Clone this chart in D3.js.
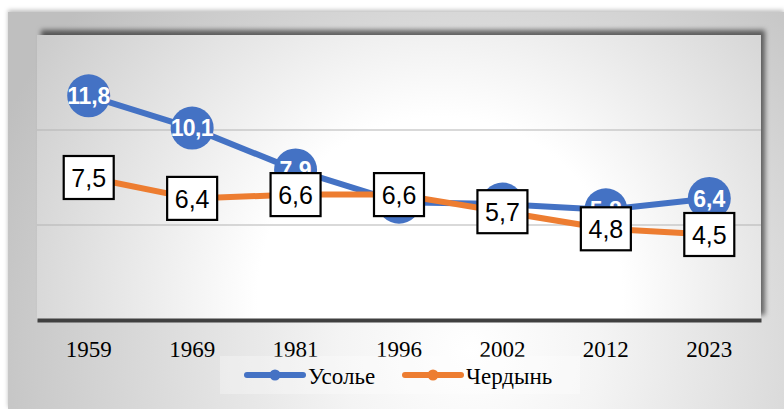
<!DOCTYPE html>
<html>
<head>
<meta charset="utf-8">
<script src="https://cdn.jsdelivr.net/npm/d3@7/dist/d3.min.js"></script>
<style>
  html, body { margin: 0; padding: 0; background: #ffffff; }
  svg { display: block; }
</style>
</head>
<body>
<svg id="chart" width="784" height="409"></svg>
<script>
// Census years and population (thousand people) of the two towns
const years = ["1959", "1969", "1981", "1996", "2002", "2012", "2023"];
const usolye = [11.8, 10.1, 7.9, 6.2, 6.1, 5.8, 6.4];
const cherdyn = [7.5, 6.4, 6.6, 6.6, 5.7, 4.8, 4.5];
const seriesNames = ["Усолье", "Чердынь"];
const gridValues = [5, 10];

const W = 784, H = 409;
const plot = { left: 37, right: 761, top: 35, bottom: 320 };
const blue = "#4472C4", orange = "#ED7D31";

const svg = d3.select("#chart");
const defs = svg.append("defs");

// outer panel gradient
const gOuter = defs.append("radialGradient").attr("id", "outerGrad")
  .attr("gradientUnits", "userSpaceOnUse")
  .attr("cx", 470).attr("cy", 350).attr("r", 520);
gOuter.append("stop").attr("offset", 0).attr("stop-color", "#ffffff");
gOuter.append("stop").attr("offset", 0.25).attr("stop-color", "#f4f4f4");
gOuter.append("stop").attr("offset", 1).attr("stop-color", "#bfbfbf");

// plot area gradient
const gPlot = defs.append("radialGradient").attr("id", "plotGrad")
  .attr("gradientUnits", "userSpaceOnUse")
  .attr("cx", 440).attr("cy", 300).attr("r", 480);
gPlot.append("stop").attr("offset", 0).attr("stop-color", "#ffffff");
gPlot.append("stop").attr("offset", 0.38).attr("stop-color", "#ffffff");
gPlot.append("stop").attr("offset", 1).attr("stop-color", "#cbcbcb");

const shPlot = defs.append("filter").attr("id", "plotShadow")
  .attr("x", "-5%").attr("y", "-10%").attr("width", "110%").attr("height", "120%");
shPlot.append("feDropShadow").attr("dx", 4).attr("dy", -5)
  .attr("stdDeviation", 2.5).attr("flood-color", "#000").attr("flood-opacity", 0.55);

const shOuter = defs.append("filter").attr("id", "outerShadow")
  .attr("x", "-5%").attr("y", "-10%").attr("width", "110%").attr("height", "120%");
shOuter.append("feDropShadow").attr("dx", 0).attr("dy", -2)
  .attr("stdDeviation", 2).attr("flood-color", "#000").attr("flood-opacity", 0.25);

// outer panel
svg.append("rect").attr("x", 8).attr("y", 12).attr("width", W - 8).attr("height", H - 12)
  .attr("fill", "url(#outerGrad)").attr("filter", "url(#outerShadow)");

// plot area
svg.append("rect").attr("x", plot.left).attr("y", plot.top)
  .attr("width", plot.right - plot.left).attr("height", plot.bottom - plot.top)
  .attr("fill", "url(#plotGrad)").attr("filter", "url(#plotShadow)");

const x = d3.scaleBand().domain(years).range([plot.left, plot.right]).padding(0);
const cx = d => x(d) + x.bandwidth() / 2;
const y = d3.scaleLinear().domain([0, 15]).range([plot.bottom, plot.top]);

// gridlines
svg.append("g").selectAll("line").data(gridValues).join("line")
  .attr("x1", plot.left).attr("x2", plot.right)
  .attr("y1", d => y(d)).attr("y2", d => y(d))
  .attr("stroke", "#b4b4b4").attr("stroke-width", 1.2);

// category axis
const axis = svg.append("g").attr("transform", `translate(0,${plot.bottom})`)
  .call(d3.axisBottom(x).tickSize(0).tickPadding(21));
axis.select(".domain").attr("stroke", "#404040").attr("stroke-width", 4);
axis.selectAll("text")
  .attr("font-family", "'Liberation Serif', 'Times New Roman', serif")
  .attr("font-size", 23).attr("fill", "#000");

const line = d3.line().x((d, i) => cx(years[i])).y(d => y(d));

function drawSeries(values, color) {
  const g = svg.append("g");
  g.append("path").datum(values).attr("d", line)
    .attr("fill", "none").attr("stroke", color).attr("stroke-width", 6)
    .attr("stroke-linejoin", "round").attr("stroke-linecap", "round");
  g.selectAll("circle").data(values).join("circle")
    .attr("cx", (d, i) => cx(years[i])).attr("cy", d => y(d))
    .attr("r", 21.5).attr("fill", color);
}
drawSeries(usolye, blue);
drawSeries(cherdyn, orange);

const fmt = v => d3.format(".1f")(v).replace(".", ",");

// Усолье labels: white bold text on the markers
svg.append("g").selectAll("text").data(usolye).join("text")
  .attr("x", (d, i) => cx(years[i])).attr("y", d => y(d))
  .attr("dy", "0.36em").attr("text-anchor", "middle")
  .attr("font-family", "'Liberation Sans', Arial, sans-serif")
  .attr("font-weight", "bold").attr("font-size", 23).attr("fill", "#fff")
  .attr("textLength", d => fmt(d).length === 4 ? 43 : null)
  .text(fmt);

// Чердынь labels: boxed black text
const boxW = 50, boxH = 43;
const cl = svg.append("g").selectAll("g").data(cherdyn).join("g")
  .attr("transform", (d, i) => `translate(${cx(years[i])},${y(d)})`);
cl.append("rect").attr("x", -boxW / 2).attr("y", -boxH / 2)
  .attr("width", boxW).attr("height", boxH)
  .attr("fill", "#fff").attr("stroke", "#000").attr("stroke-width", 2.2);
cl.append("text").attr("dy", "0.37em").attr("text-anchor", "middle")
  .attr("font-family", "'Liberation Sans', Arial, sans-serif")
  .attr("font-size", 25).attr("fill", "#000")
  .text(fmt);

// legend
const legend = svg.append("g");
legend.append("rect").attr("x", 220).attr("y", 356).attr("width", 360).attr("height", 38)
  .attr("fill", "#ffffff").attr("opacity", 0.3);
const legItems = [
  { name: seriesNames[0], color: blue, x0: 247 },
  { name: seriesNames[1], color: orange, x0: 405 }
];
const li = legend.selectAll("g").data(legItems).join("g")
  .attr("transform", d => `translate(${d.x0},375)`);
li.append("line").attr("x1", 0).attr("x2", 56).attr("y1", 0).attr("y2", 0)
  .attr("stroke", d => d.color).attr("stroke-width", 6).attr("stroke-linecap", "round");
li.append("circle").attr("cx", 28).attr("cy", 0).attr("r", 5.5).attr("fill", d => d.color);
li.append("text").attr("x", 61).attr("y", 9)
  .attr("font-family", "'Liberation Serif', 'Times New Roman', serif")
  .attr("font-size", 23).attr("fill", "#000")
  .text(d => d.name);
</script>
</body>
</html>
